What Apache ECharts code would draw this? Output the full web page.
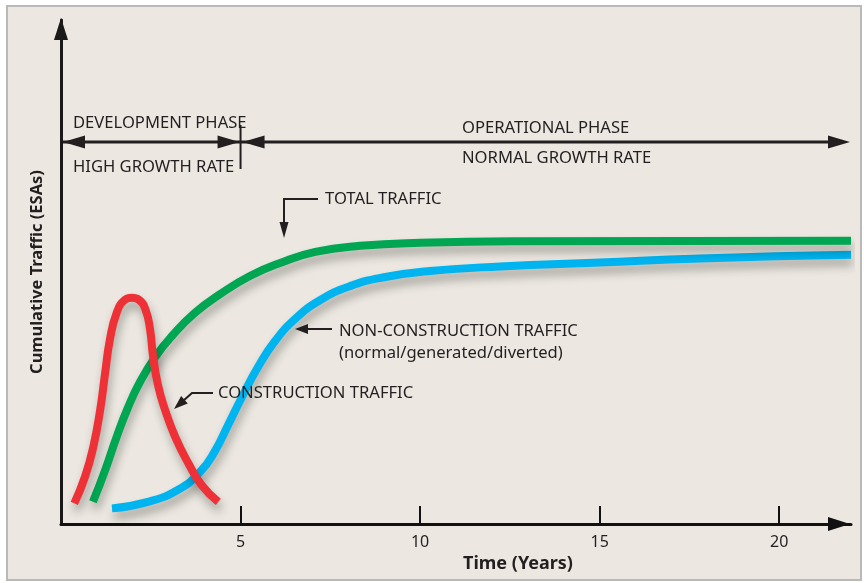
<!DOCTYPE html>
<html>
<head>
<meta charset="utf-8">
<script src="https://cdn.jsdelivr.net/npm/echarts@6/dist/echarts.min.js"></script>
<style>
  html, body { margin: 0; padding: 0; background: #fff; }
  #main { width: 864px; height: 583px; }
</style>
</head>
<body>
<div id="main"></div>
<script>
// values (x in years, y in arbitrary % of axis height)
const tickYears = [5, 10, 15, 20];

const constructionYears = [0.37, 0.67, 0.9, 1.09, 1.23, 1.36, 1.55, 1.78, 1.97, 2.17, 2.36, 2.48, 2.56, 2.7, 2.9, 3.18, 3.55, 3.92, 4.38];
const constructionValues = [4.1, 9.4, 15.3, 22.6, 30.0, 36.5, 41.9, 44.5, 44.9, 44.5, 42.4, 38.6, 33.5, 27.6, 22.6, 17.3, 12.0, 7.7, 4.4];

const totalYears = [0.89, 1.23, 1.56, 1.87, 2.2, 2.62, 3.09, 3.73, 4.43, 5.26, 6.1, 7.08, 8.33, 10.0, 12.79, 22.0];
const totalValues = [4.4, 10.7, 17.5, 23.2, 28.2, 33.1, 37.3, 41.9, 45.6, 49.2, 51.8, 54.0, 55.2, 55.8, 56.1, 56.2];

const nonConstructionYears = [1.42, 2.42, 3.26, 3.87, 4.29, 4.65, 5.04, 5.49, 5.96, 6.52, 7.21, 8.05, 9.03, 10.28, 12.23, 15.0, 17.8, 22.0];
const nonConstructionValues = [3.1, 4.4, 6.8, 10.3, 14.5, 19.6, 25.2, 31.2, 36.3, 40.7, 44.4, 47.2, 49.0, 50.2, 51.1, 51.9, 52.7, 53.4];

const FONT = '"Noto Sans", "Open Sans", sans-serif';
const INK = '#231F20';

function pairs(xs, ys) {
  return xs.map(function (x, i) { return [x, ys[i]]; });
}

function curve(name, xs, ys, color) {
  return {
    name: name,
    type: 'line',
    data: pairs(xs, ys),
    smooth: 0.5,
    symbol: 'none',
    clip: false,
    lineStyle: {
      color: color,
      width: 8,
      cap: 'butt',
      join: 'round',
      shadowColor: 'rgba(0,0,0,0.3)',
      shadowBlur: 10,
      shadowOffsetX: 2,
      shadowOffsetY: 7
    }
  };
}

const chart = echarts.init(document.getElementById('main'));

chart.setOption({
  animation: false,
  backgroundColor: '#fff',
  grid: { left: 61, right: 13, top: 20, bottom: 59 },
  xAxis: {
    type: 'value',
    min: 0,
    max: 22,
    interval: 5,
    splitLine: { show: false },
    axisLine: {
      lineStyle: { color: '#111', width: 3 },
      symbol: ['none', 'triangle'],
      symbolSize: [14, 22],
      symbolOffset: [0, -12]
    },
    axisTick: {
      inside: true,
      length: 18,
      customValues: tickYears,
      lineStyle: { color: '#111', width: 2 }
    },
    axisLabel: {
      customValues: tickYears,
      fontSize: 16,
      fontFamily: FONT,
      color: INK,
      margin: 10
    }
  },
  yAxis: {
    type: 'value',
    min: 0,
    max: 100,
    splitLine: { show: false },
    axisTick: { show: false },
    axisLabel: { show: false },
    axisLine: {
      show: true,
      lineStyle: { color: '#1a1a1a', width: 3 },
      symbol: ['none', 'triangle'],
      symbolSize: [14, 22],
      symbolOffset: [0, -9]
    },
    name: 'Cumulative Traffic (ESAs)',
    nameLocation: 'middle',
    nameGap: 15,
    nameRotate: 90,
    nameTextStyle: { fontSize: 16.5, fontWeight: 'bold', fontFamily: FONT, color: INK }
  },
  series: [
    curve('Non-construction traffic', nonConstructionYears, nonConstructionValues, '#00B4EF'),
    curve('Total traffic', totalYears, totalValues, '#00A651'),
    curve('Construction traffic', constructionYears, constructionValues, '#EE3136')
  ]
});

// ---- annotations ----
function px(x, y) {
  return chart.convertToPixel({ gridIndex: 0 }, [x, y]);
}

function head(tip, from, len, width) {
  let dx = tip[0] - from[0], dy = tip[1] - from[1];
  const d = Math.sqrt(dx * dx + dy * dy);
  dx /= d; dy /= d;
  const bx = tip[0] - dx * len, by = tip[1] - dy * len;
  return {
    type: 'polygon',
    z: 50,
    shape: { points: [tip, [bx - dy * width / 2, by + dx * width / 2], [bx + dy * width / 2, by - dx * width / 2]] },
    style: { fill: INK }
  };
}

function line(points, w) {
  return { type: 'polyline', z: 50, shape: { points: points }, style: { stroke: INK, lineWidth: w || 2, fill: null } };
}

function label(text, x, y, size, weight, align) {
  return {
    type: 'text',
    z: 50,
    style: {
      text: text, x: x, y: y,
      font: (weight || 'normal') + ' ' + size + 'px ' + FONT,
      fill: INK,
      textAlign: align || 'left',
      textVerticalAlign: 'middle'
    }
  };
}

const p0 = px(0, 0), p5 = px(5, 0), p22 = px(22, 0);
const phaseY = 142;
const x0 = p0[0] + 2, x5 = p5[0], x22 = p22[0];

const graphics = [
  {
    type: 'rect', z: -10,
    shape: { x: 7, y: 6, width: 854, height: 574 },
    style: { fill: '#ECE8E1', stroke: '#B9B9B9', lineWidth: 2 }
  },
  // phase arrows
  line([[x0, phaseY], [x22 - 10, phaseY]], 3),
  head([x0, phaseY], [x0 + 30, phaseY], 22, 13),
  head([x5 - 1, phaseY], [x5 - 30, phaseY], 22, 13),
  head([x5 + 2, phaseY], [x5 + 30, phaseY], 22, 13),
  head([x22 - 1, phaseY], [x22 - 30, phaseY], 22, 13),
  line([[x5, 125], [x5, 169]], 2),
  label('DEVELOPMENT PHASE', 73, 123, 16.6),
  label('HIGH GROWTH RATE', 73, 167, 16.6),
  label('OPERATIONAL PHASE', 462, 128, 16.6),
  label('NORMAL GROWTH RATE', 462, 158, 16.6),
  // total traffic
  label('TOTAL TRAFFIC', 325, 199, 16.6),
  line([[318, 199], [284, 199], [284, 226]], 2),
  head([284, 238], [284, 200], 16, 9),
  // non-construction traffic
  label('NON-CONSTRUCTION TRAFFIC', 339, 331, 16.6),
  label('(normal/generated/diverted)', 339, 353, 16.6),
  line([[332, 329], [305, 329]], 2),
  head([295, 329], [332, 329], 13, 10),
  // construction traffic
  label('CONSTRUCTION TRAFFIC', 218, 393, 16.6),
  line([[213, 393], [192, 393], [183, 401]], 2),
  head([174, 409], [192, 393], 14, 10),
  // x axis name
  label('Time (Years)', 518, 564, 18, 'bold', 'center')
];

chart.setOption({ graphic: { elements: graphics } });
</script>
</body>
</html>
